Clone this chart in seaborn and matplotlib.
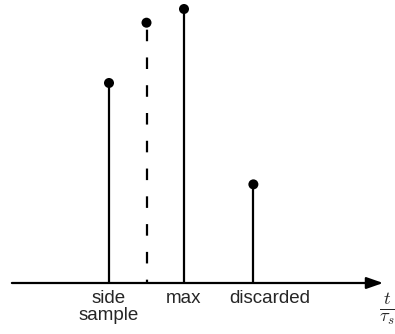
import matplotlib
matplotlib.use("Agg")
import matplotlib.pyplot as plt
import seaborn as sns
import pandas as pd

# data (t in units of tau_s, amplitude normalised to max)
t_vals = [-2.0, -1.0, 0.0, 1.85]
heights = [0.73, 0.95, 1.0, 0.36]
styles = ["solid", "dashed", "solid", "solid"]
label_text = ["side\nsample", "max", "discarded"]
label_pos = [-2.0, 0.0, 2.3]

sns.set_style("white")
plt.rcParams['font.family'] = ['Liberation Sans', 'DejaVu Sans']
plt.rcParams['mathtext.fontset'] = 'cm'

fig = plt.figure(figsize=(3.95, 3.34), dpi=100)
ax = fig.add_axes([0, 0, 1, 1])

df = pd.DataFrame({"t": t_vals, "h": heights, "style": styles})

for _, r in df.iterrows():
    ls = (9.5, (5.2, 7.3)) if r["style"] == "dashed" else "solid"
    ax.plot([r["t"], r["t"]], [r["h"], 0], color="black", linewidth=1.6,
            linestyle=ls, solid_capstyle="butt", dash_capstyle="butt")
sns.scatterplot(data=df, x="t", y="h", color="black", s=52, edgecolor="none",
                ax=ax, legend=False, zorder=3)

# axis arrow
ax.annotate("", xy=(5.31, 0), xytext=(-4.59, 0),
            arrowprops=dict(arrowstyle="-|>,head_length=1.0,head_width=0.35",
                            color="black", lw=1.6, shrinkA=0, shrinkB=0))

for txt, x in zip(label_text, label_pos):
    ax.text(x, -0.025, txt, ha="center", va="top", fontsize=13.5,
            linespacing=1.05)

ax.text(5.42, -0.095, r"$\frac{t}{\tau_s}$", ha="center", va="center", fontsize=19)

ax.set_xlim(-184 / 37.5, (395 - 184) / 37.5)
ax.set_ylim(-(334 - 283) / 274, 283 / 274)
ax.axis("off")

fig.savefig("out.png", dpi=100)
